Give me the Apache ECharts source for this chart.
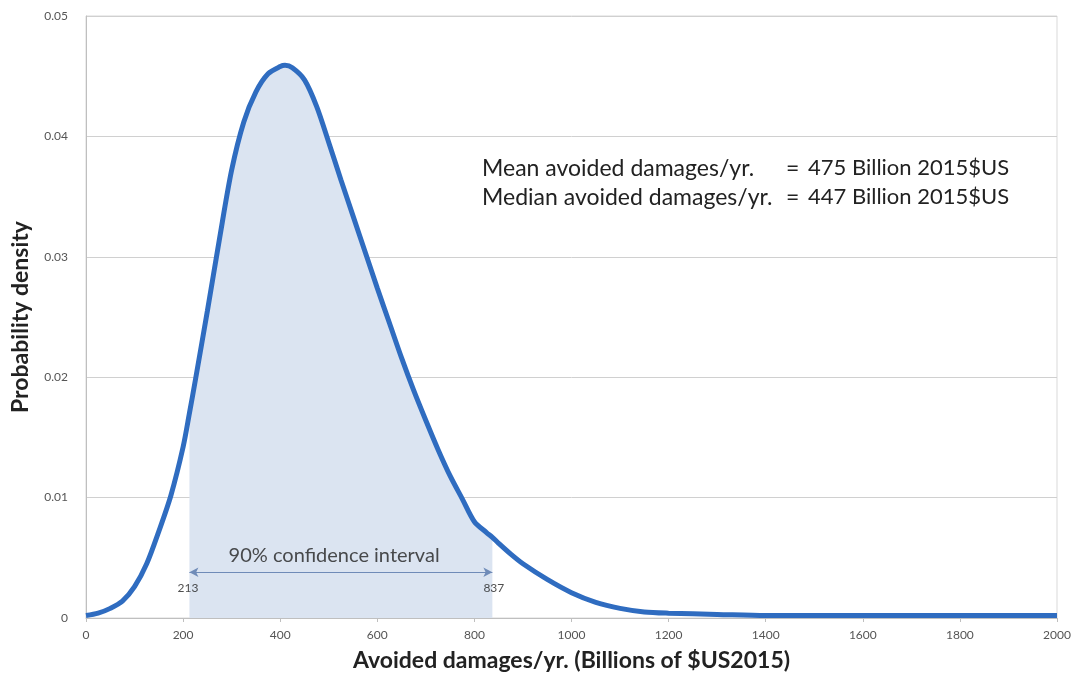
<!DOCTYPE html>
<html>
<head>
<meta charset="utf-8">
<script src="https://cdn.jsdelivr.net/npm/echarts@6/dist/echarts.min.js"></script>
<style>
html,body{margin:0;padding:0;background:#fff;}
#chart{width:1075px;height:680px;}
</style>
</head>
<body>
<div id="chart"></div>
<script>
// Avoided damages (billions $US2015)
const damages = [0, 25, 50, 75, 100, 125, 150, 175, 200, 213, 225, 250, 275, 300, 325, 350, 375, 400, 410, 425, 450, 475, 500, 525, 550, 575, 600, 625, 650, 675, 700, 725, 750, 775, 800, 825, 837, 850, 875, 900, 950, 1000, 1050, 1100, 1150, 1200, 1300, 1400, 1600, 1800, 2000];
// Probability density
const density = [0.0002, 0.0004, 0.0008, 0.0014, 0.0026, 0.0045, 0.0072, 0.0102, 0.0142, 0.0170, 0.0197, 0.0255, 0.0315, 0.0372, 0.0412, 0.0437, 0.0452, 0.0458, 0.0459, 0.0457, 0.0447, 0.0425, 0.0395, 0.0364, 0.0334, 0.0304, 0.0274, 0.0245, 0.0216, 0.0189, 0.0164, 0.0140, 0.0118, 0.0099, 0.0080, 0.0071, 0.0067, 0.0062, 0.0053, 0.0045, 0.0032, 0.0021, 0.0013, 0.0008, 0.0005, 0.0004, 0.0003, 0.0002, 0.0002, 0.0002, 0.0002];
// 90% confidence interval bounds
const ciLow = 213;
const ciHigh = 837;
const ciLabel = '90% confidence interval';
const statLabels = ['Mean avoided damages/yr.', 'Median avoided damages/yr.'];
const statValues = ['475 Billion 2015$US', '447 Billion 2015$US'];
const xTicks = [0, 200, 400, 600, 800, 1000, 1200, 1400, 1600, 1800, 2000];
const yTicks = [0, 0.01, 0.02, 0.03, 0.04, 0.05];

const FONT = 'Lato, "Open Sans", sans-serif';
const curve = damages.map((x, i) => [x, density[i]]);
const ciCurve = curve.filter(p => p[0] >= ciLow && p[0] <= ciHigh);

const chart = echarts.init(document.getElementById('chart'), null, {renderer: 'canvas'});
const txt = (left, top, text, size) => ({type: 'text', left, top, style: {text, fontFamily: FONT, fontSize: size, fill: '#222'}});
chart.setOption({
  animation: false,
  backgroundColor: '#ffffff',
  grid: {left: 86, right: 18, top: 16, bottom: 62, show: true, borderColor: '#d9d9d9', borderWidth: 1},
  xAxis: {
    type: 'value', min: xTicks[0], max: xTicks[xTicks.length - 1], interval: 200,
    name: 'Avoided damages/yr. (Billions of $US2015)',
    nameLocation: 'middle', nameGap: 31,
    nameTextStyle: {fontFamily: FONT, fontSize: 23, fontWeight: 'bold', color: '#222'},
    axisLine: {lineStyle: {color: '#bfbfbf'}},
    axisTick: {show: true, length: 4, lineStyle: {color: '#bfbfbf'}},
    axisLabel: {fontFamily: FONT, fontSize: 12, color: '#555', margin: 11, formatter: v => String(v)},
    splitLine: {show: false}
  },
  yAxis: {
    type: 'value', min: yTicks[0], max: yTicks[yTicks.length - 1], interval: 0.01,
    name: 'Probability density',
    nameLocation: 'middle', nameGap: 54,
    nameTextStyle: {fontFamily: FONT, fontSize: 23, fontWeight: 'bold', color: '#222'},
    axisLine: {show: true, lineStyle: {color: '#bfbfbf'}},
    axisTick: {show: false},
    axisLabel: {fontFamily: FONT, fontSize: 12, color: '#555', margin: 18,
      formatter: v => v === 0 ? '0' : v.toFixed(2)},
    splitLine: {show: true, lineStyle: {color: '#d0d0d0', width: 1}}
  },
  series: [
    {
      name: 'ci', type: 'line', data: ciCurve, smooth: 0.3, symbol: 'none',
      lineStyle: {width: 0, opacity: 0},
      areaStyle: {color: '#dbe4f1', opacity: 1},
      z: 1,
      markLine: {
        silent: true, symbol: ['arrow', 'arrow'], symbolSize: [7, 9],
        lineStyle: {color: '#6f8bb8', width: 1.2, type: 'solid'},
        label: {show: false},
        data: [[{coord: [ciLow, 0.0038]}, {coord: [ciHigh, 0.0038]}]]
      }
    },
    {
      name: 'density', type: 'line', data: curve, smooth: 0.3, symbol: 'none',
      lineStyle: {color: '#2f6cc0', width: 5},
      z: 3
    },
    {
      name: 'labels', type: 'scatter', symbolSize: 0, z: 4, silent: true,
      data: [
        {value: [ciLow - 3, 0.0025], label: {show: true, formatter: String(ciLow), fontSize: 12, color: '#222', fontFamily: FONT}},
        {value: [ciHigh + 3, 0.0025], label: {show: true, formatter: String(ciHigh), fontSize: 12, color: '#222', fontFamily: FONT}},
        {value: [(ciLow + ciHigh) / 2 - 14, 0.0052], label: {show: true, formatter: ciLabel, fontSize: 20, color: '#222', fontFamily: FONT}}
      ],
      label: {position: 'inside'}
    }
  ],
  graphic: [
    txt(482, 157, statLabels[0], 23),
    txt(786, 157, '=', 23),
    txt(808, 157, statValues[0], 22),
    txt(482, 186, statLabels[1], 23),
    txt(786, 186, '=', 23),
    txt(808, 186, statValues[1], 22)
  ]
});
</script>
</body>
</html>
